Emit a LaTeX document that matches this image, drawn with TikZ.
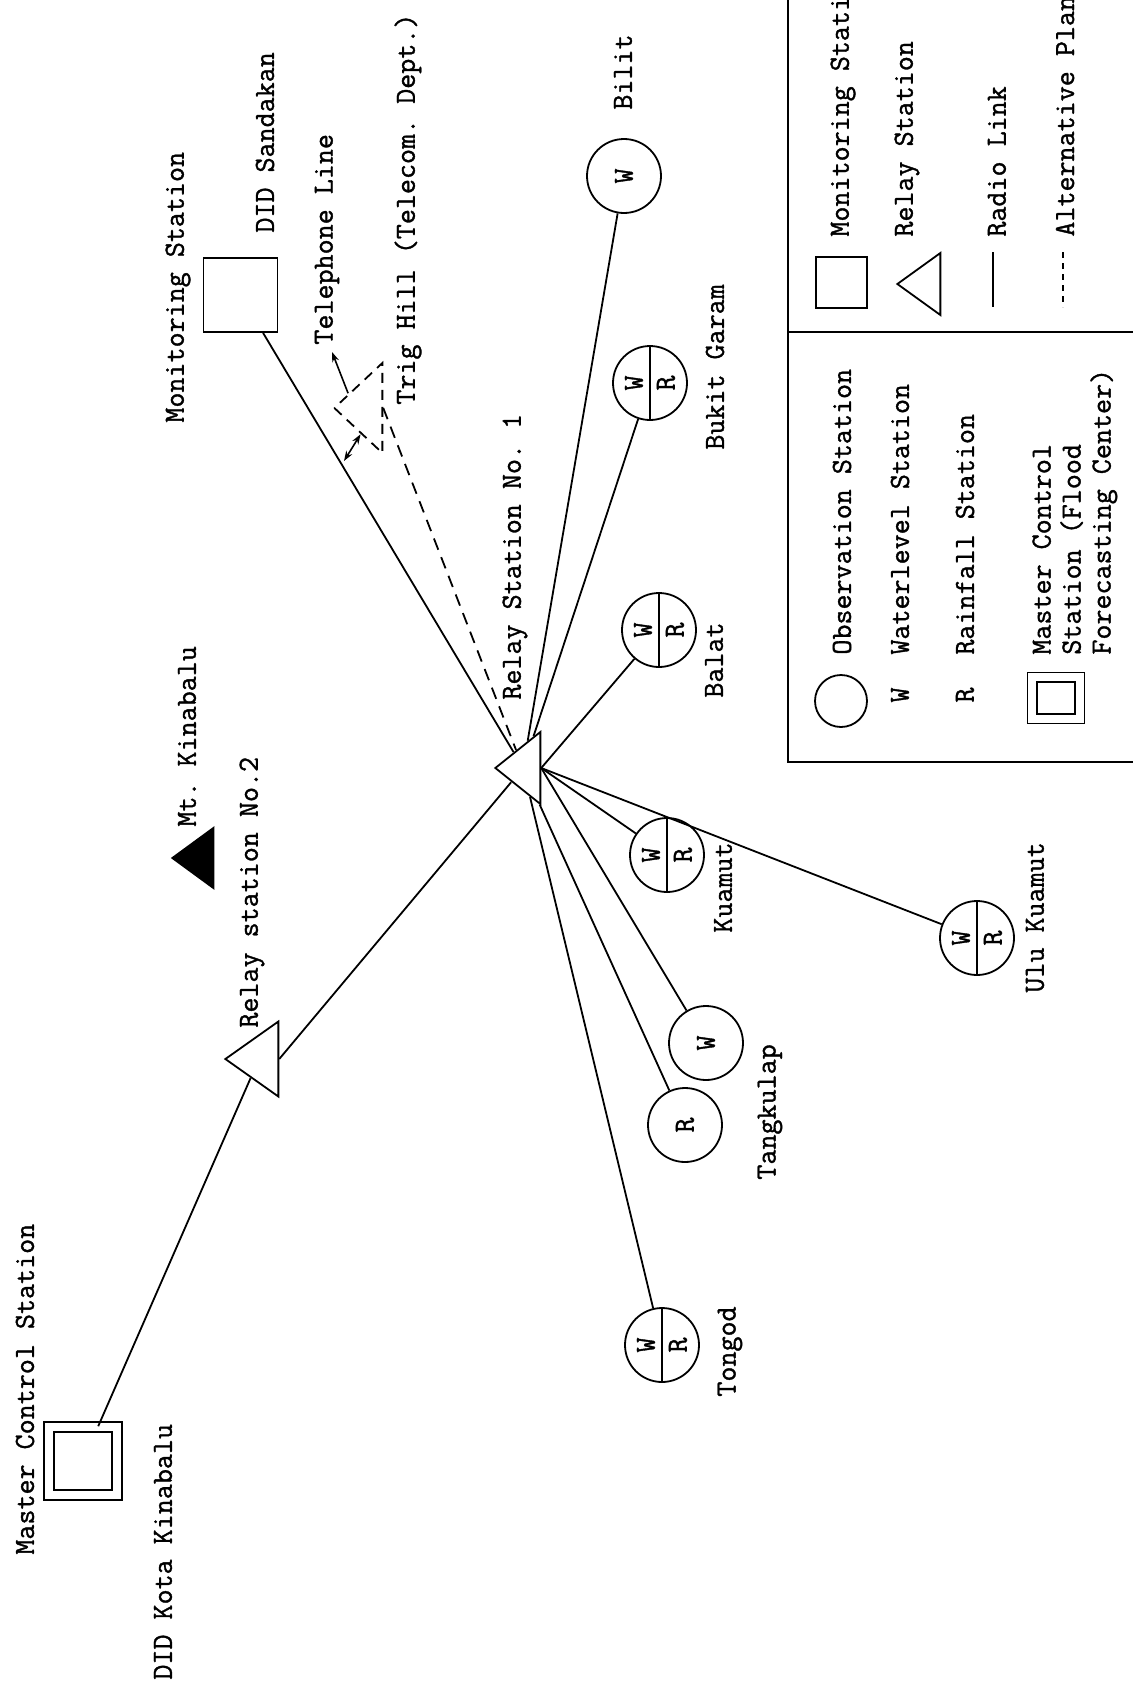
\documentclass[tikz,border=0pt]{standalone}
\usepackage{fontspec}
\setmainfont{Latin Modern Mono}[FakeBold=1.2]
\usetikzlibrary{shapes.geometric, arrows.meta}
\frenchspacing

\begin{document}
\begin{tikzpicture}[
  x=0.5pt, y=-0.5pt,
  >={Stealth[length=5pt, width=3.5pt]},
  font=\fontsize{14.6}{15}\selectfont,
  link/.style={line width=0.9pt},
  altlink/.style={line width=0.9pt, dash pattern=on 6pt off 4pt},
  vtext/.style={rotate=90, anchor=west, inner sep=0pt},
  obs/.style={draw, circle, line width=0.9pt, minimum size=37pt, inner sep=0pt, rotate=90},
  obssplit/.style={draw, circle, line width=0.9pt, minimum size=37pt, inner sep=0pt,
    path picture={
      \draw[line width=0.9pt] (path picture bounding box.north) -- (path picture bounding box.south);
      \node[rotate=90, inner sep=0pt] at ([xshift=-8pt]path picture bounding box.center) {W};
      \node[rotate=90, inner sep=0pt] at ([xshift=8pt]path picture bounding box.center) {R};
    }},
  relay/.style={draw, isosceles triangle, isosceles triangle stretches, shape border rotate=180,
    line width=0.9pt, inner sep=0pt, anchor=apex, minimum height=22.5pt, minimum width=36pt},
  monbox/.style={draw, rectangle, line width=0.9pt, minimum size=37pt, inner sep=0pt},
  mastbox/.style={draw, rectangle, double, double distance=4pt, line width=0.8pt, minimum size=34pt, inner sep=0pt}
]
\useasboundingbox (0,0) rectangle (1132,1686);

% CONTROL AND MONITORING
\node[mastbox] (master) at (83,1461) {};
\node[vtext] (mastertxt) at (25,1555) {Master Control Station};
\node[vtext] (kotatxt) at (163,1680) {DID Kota Kinabalu};

\node[monbox] (monitor) at (240.5,295) {};
\node[vtext] (monitortxt) at (178,423) {Monitoring Station};
\node[vtext] (sandakantxt) at (265,233) {DID Sandakan};

% RELAY STATIONS
\node[relay, minimum height=26.5pt, minimum width=37.5pt] (relaytwo) at (223,1059) {};
\node[vtext] (relaytwotxt) at (252,1028) {Relay station No.2};

\node[relay] (relayone) at (493,768) {};
\node[vtext] (relayonetxt) at (515,700) {Relay Station No. 1};

\node[relay, fill=black, minimum height=20.5pt, minimum width=30pt] (kinabalu) at (170,858) {};
\node[vtext] (kinabalutxt) at (187,827) {Mt. Kinabalu};

\node[relay, dash pattern=on 5pt off 3.5pt, minimum height=24pt, minimum width=45pt] (trighill) at (332,408) {};
\node[vtext] (trigtxt) at (408,405) {Trig Hill (Telecom. Dept.)};
\node[vtext] (teltxt) at (327,345) {Telephone Line};
\coordinate (telend) at (332,352);
\coordinate (altend) at (344,461);
\draw[->, line width=0.8pt] (trighill.135) -- (telend);
\draw[<->, line width=0.8pt] (trighill.265) -- (altend);

% OBSERVATION STATIONS
\node[obs] (bilit) at (624,176) {W};
\node[vtext] (bilittxt) at (623,110) {Bilit};
\node[obssplit] (bukit) at (650,383) {};
\node[vtext] (bukittxt) at (715,450) {Bukit Garam};
\node[obssplit] (balat) at (659,630) {};
\node[vtext] (balattxt) at (714,698) {Balat};
\node[obssplit] (kuamut) at (667,855) {};
\node[vtext] (kuamuttxt) at (723,933) {Kuamut};
\node[obssplit] (ulukuamut) at (977,938) {};
\node[vtext] (ulukuamuttxt) at (1035,993) {Ulu Kuamut};
\node[obs] (tangkulapw) at (706,1043) {W};
\node[obs] (tangkulapr) at (685,1125) {R};
\node[vtext] (tangkulaptxt) at (770,1180) {Tangkulap};
\node[obssplit] (tongod) at (662,1345) {};
\node[vtext] (tongodtxt) at (730,1397) {Tongod};

% RADIO LINKS
\draw[link] (master) -- (relaytwo);
\draw[link] (relaytwo.lower side) -- (relayone);
\draw[link] (monitor) -- (relayone);
\draw[altlink] (trighill.lower side) -- (relayone);
\draw[link] (relayone) -- (bilit);
\draw[link] (relayone) -- (bukit);
\draw[link] (relayone.lower side) -- (balat);
\draw[link] (relayone.lower side) -- (kuamut);
\draw[link] (relayone.lower side) -- (ulukuamut);
\draw[link] (relayone.lower side) -- (tangkulapw);
\draw[link] (relayone) -- (tangkulapr);
\draw[link] (relayone) -- (tongod);

% LEGEND
\coordinate (frametop) at (788,-10);
\coordinate (framecorner) at (788,762);
\coordinate (frameright) at (1145,762);
\coordinate (divleft) at (788,332);
\coordinate (divright) at (1145,332);
\draw[link] (frametop) -- (framecorner) -- (frameright);
\draw[line width=0.7pt] (divleft) -- (divright);

\node[monbox, minimum size=25.5pt] (keymon) at (841.5,282.5) {};
\node[vtext] (keymontxt) at (843,237) {Monitoring Station};
\node[relay, minimum height=21.5pt, minimum width=31pt] (keyrelay) at (895,284) {};
\node[vtext] (keyrelaytxt) at (907,237) {Relay Station};
\coordinate (keyradioa) at (993,252);
\coordinate (keyradiob) at (993,307);
\draw[link] (keyradioa) -- (keyradiob);
\node[vtext] (keyradiotxt) at (997,237) {Radio Link};
\coordinate (keyalta) at (1063,252);
\coordinate (keyaltb) at (1063,307);
\draw[line width=0.9pt, dash pattern=on 3pt off 2.5pt] (keyalta) -- (keyaltb);
\node[vtext] (keyalttxt) at (1065,237) {Alternative Plan};

\node[obs, minimum size=26pt] (keyobs) at (841,701) {};
\node[vtext] (keyobstxt) at (842,655) {Observation Station};
\node[rotate=90, inner sep=0pt] (keyw) at (900,695) {W};
\node[vtext] (keywtxt) at (900,655) {Waterlevel Station};
\node[rotate=90, inner sep=0pt] (keyr) at (965,695) {R};
\node[vtext] (keyrtxt) at (965,655) {Rainfall Station};
\node[mastbox, minimum width=23.75pt, minimum height=20.75pt] (keymast) at (1056,698) {};
\node[rotate=90, anchor=north west, inner sep=0pt, align=left] (keymasttxt) at (1032,655)
  {Master Control\\Station (Flood\\Forecasting Center)};

\end{tikzpicture}
\end{document}
